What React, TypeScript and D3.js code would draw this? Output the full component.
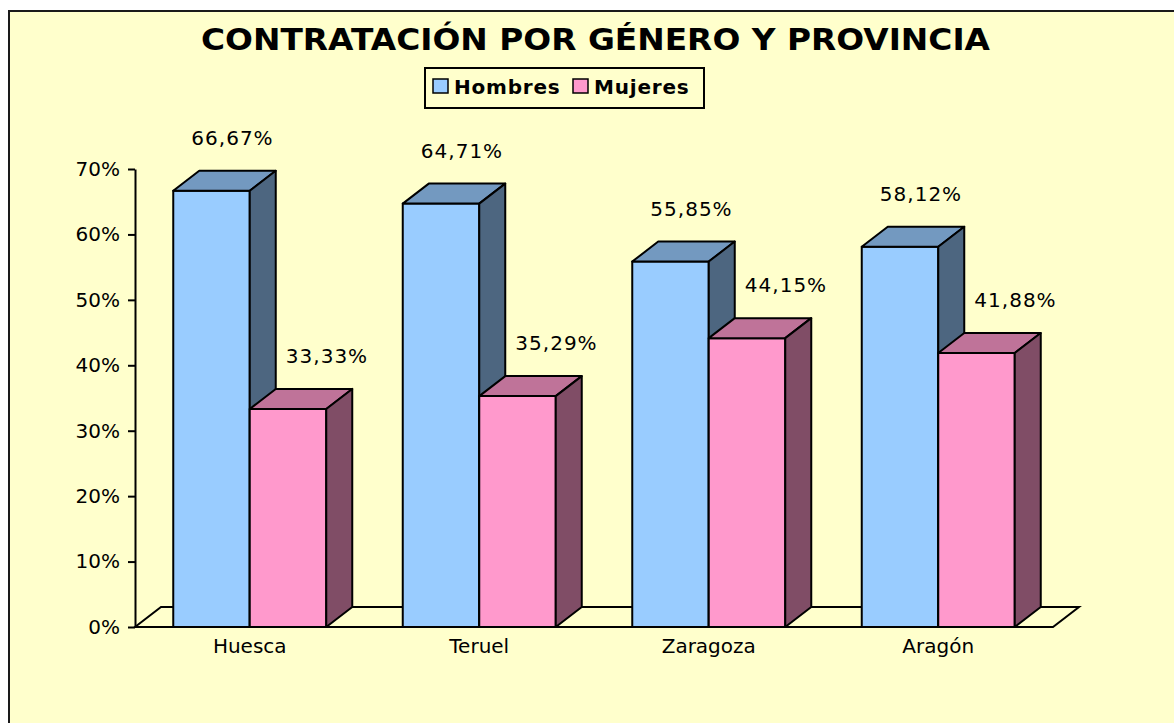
import React, { useEffect, useRef } from 'react';
import * as d3 from 'd3';

const categories = ['Huesca', 'Teruel', 'Zaragoza', 'Aragón'];
const seriesNames = ['Hombres', 'Mujeres'];
const hombres = [66.67, 64.71, 55.85, 58.12];
const mujeres = [33.33, 35.29, 44.15, 41.88];
const tickValues = [0, 10, 20, 30, 40, 50, 60, 70];

const colors = {
  Hombres: { front: '#99CCFF', top: '#7399C0', side: '#4D6680' },
  Mujeres: { front: '#FF99CC', top: '#BF7399', side: '#804D66' },
};

const fmt = (v: number) => v.toFixed(2).replace('.', ',') + '%';

const App = () => {
  const svgRef = useRef<SVGSVGElement>(null);

  useEffect(() => {
    const width = 1174;
    const height = 723;
    const left = 135;
    const right = 1053;
    const bottom = 627;
    const topY = 169;
    const dx = 26;
    const dy = 20;
    const font = 'DejaVu Sans, Verdana, sans-serif';

    const svg = d3.select(svgRef.current)
      .attr('width', width)
      .attr('height', height);
    svg.selectAll('*').remove();

    // fondo del gráfico
    svg.append('rect')
      .attr('x', 9).attr('y', 11)
      .attr('width', 1300).attr('height', 900)
      .attr('fill', '#FFFFCC')
      .attr('stroke', '#1a1a1a')
      .attr('stroke-width', 2);

    // título
    svg.append('text')
      .attr('x', 595.5).attr('y', 50)
      .attr('text-anchor', 'middle')
      .attr('font-family', font)
      .attr('font-weight', 'bold')
      .attr('font-size', 30)
      .attr('textLength', 789)
      .attr('lengthAdjust', 'spacingAndGlyphs')
      .text('CONTRATACIÓN POR GÉNERO Y PROVINCIA');

    // leyenda
    const legend = svg.append('g');
    legend.append('rect')
      .attr('x', 425).attr('y', 68)
      .attr('width', 279).attr('height', 40)
      .attr('fill', '#FFFFCC')
      .attr('stroke', '#000')
      .attr('stroke-width', 2);
    const legendX = [433, 573];
    seriesNames.forEach((s, i) => {
      legend.append('rect')
        .attr('x', legendX[i]).attr('y', 79)
        .attr('width', 15).attr('height', 14)
        .attr('fill', colors[s].front)
        .attr('stroke', '#000')
        .attr('stroke-width', 1.5);
      legend.append('text')
        .attr('x', legendX[i] + 21).attr('y', 94)
        .attr('font-family', font)
        .attr('font-weight', 'bold')
        .attr('font-size', 20)
        .attr('letter-spacing', 0.8)
        .text(s);
    });

    // escalas
    const xScale = d3.scaleBand()
      .domain(categories)
      .range([left, right])
      .padding(0);

    const xSub = d3.scaleBand()
      .domain(seriesNames)
      .range([0, xScale.bandwidth()])
      .paddingInner(0)
      .paddingOuter(0.5);

    const yScale = d3.scaleLinear()
      .domain([0, 70])
      .range([bottom, topY]);

    // suelo 3D
    svg.append('polygon')
      .attr('points', [
        [left, bottom], [left + dx, bottom - dy],
        [right + dx, bottom - dy], [right, bottom],
      ].map(p => p.join(',')).join(' '))
      .attr('fill', '#FFFFCC')
      .attr('stroke', '#000')
      .attr('stroke-width', 2);

    // eje Y
    const yAxis = svg.append('g')
      .attr('transform', `translate(${left},0)`)
      .call(d3.axisLeft(yScale)
        .tickValues(tickValues)
        .tickSize(7)
        .tickSizeOuter(0)
        .tickPadding(8)
        .tickFormat(d => d + '%'));
    yAxis.select('.domain').attr('stroke', '#000').attr('stroke-width', 2);
    yAxis.selectAll('.tick line').attr('stroke', '#000').attr('stroke-width', 2);
    yAxis.selectAll('.tick text')
      .attr('font-family', font)
      .attr('font-size', 20)
      .attr('fill', '#000');

    // barras 3D
    const rows = categories.map((c, i) => ({
      cat: c,
      vals: [
        { s: 'Hombres', v: hombres[i] },
        { s: 'Mujeres', v: mujeres[i] },
      ],
    }));

    const bw = xSub.bandwidth();
    const pts = (a: number[][]) => a.map(p => p.join(',')).join(' ');

    rows.forEach(row => {
      row.vals.forEach(d => {
        const x0 = xScale(row.cat) + xSub(d.s);
        const yT = yScale(d.v);
        const g = svg.append('g')
          .attr('stroke', '#000')
          .attr('stroke-width', 2)
          .attr('stroke-linejoin', 'round');
        g.append('rect')
          .attr('x', x0).attr('y', yT)
          .attr('width', bw).attr('height', bottom - yT)
          .attr('fill', colors[d.s].front);
        g.append('polygon')
          .attr('points', pts([[x0, yT], [x0 + dx, yT - dy], [x0 + bw + dx, yT - dy], [x0 + bw, yT]]))
          .attr('fill', colors[d.s].top);
        g.append('polygon')
          .attr('points', pts([[x0 + bw, yT], [x0 + bw + dx, yT - dy], [x0 + bw + dx, bottom - dy], [x0 + bw, bottom]]))
          .attr('fill', colors[d.s].side);
      });
    });

    // etiquetas de datos
    rows.forEach(row => {
      row.vals.forEach(d => {
        const x0 = xScale(row.cat) + xSub(d.s);
        const off = d.s === 'Hombres' ? 21 : 39;
        svg.append('text')
          .attr('x', x0 + bw / 2 + off)
          .attr('y', yScale(d.v) - 46)
          .attr('text-anchor', 'middle')
          .attr('font-family', font)
          .attr('font-size', 20)
          .attr('letter-spacing', 1)
          .text(fmt(d.v));
      });
    });

    // etiquetas de categoría
    svg.selectAll('.cat')
      .data(categories)
      .join('text')
      .attr('class', 'cat')
      .attr('x', d => xScale(d) + xScale.bandwidth() / 2)
      .attr('y', 653)
      .attr('text-anchor', 'middle')
      .attr('font-family', font)
      .attr('font-size', 20)
      .text(d => d);
  }, []);

  return (
    <svg
      ref={svgRef}
      style={{ position: 'absolute', left: 0, top: 0, display: 'block' }}
    ></svg>
  );
};

export default App;
